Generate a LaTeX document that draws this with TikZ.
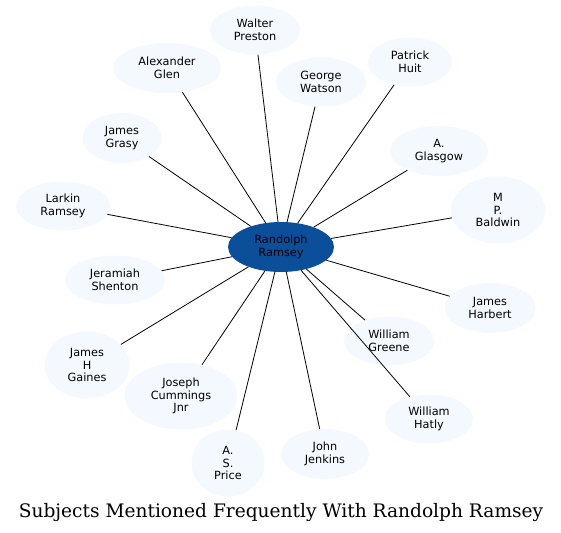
\documentclass[tikz,border=0pt]{standalone}
\usepackage{fontspec}
\setmainfont{DejaVu Sans}
\newfontfamily\titlefont{DejaVu Serif}
\usetikzlibrary{shapes.geometric}
\usepackage{xcolor}
\definecolor{hub}{RGB}{11,79,155}
\definecolor{leaf}{RGB}{244,248,255}

\begin{document}
\begin{tikzpicture}[x=1pt,y=-1pt,
  who/.style={ellipse,fill=leaf,inner sep=0pt,align=center,font=\fontsize{11.3}{12.6}\selectfont},
  link/.style={line width=.8pt}]
\useasboundingbox (0,0) rectangle (561,532);
\node[who,fill=hub,minimum width=106,minimum height=50] (rr) at (281,247){Randolph\\Ramsey};
\node[who,minimum width=90,minimum height=49] (wp) at (255,30){Walter\\Preston};
\node[who,minimum width=108,minimum height=50] (ag) at (167,68){Alexander\\Glen};
\node[who,minimum width=90,minimum height=49] (gw) at (321,82){George\\Watson};
\node[who,minimum width=84,minimum height=49] (ph) at (410,62){Patrick\\Huit};
\node[who,minimum width=79,minimum height=50] (jg) at (122,138){James\\Grasy};
\node[who,minimum width=98,minimum height=50] (agl) at (439,151){A.\\Glasgow};
\node[who,minimum width=94,minimum height=49] (lr) at (63,206){Larkin\\Ramsey};
\node[who,minimum width=94,minimum height=67] (mpb) at (498,210){M\\P.\\Baldwin};
\node[who,minimum width=100,minimum height=49] (js) at (115,280){Jeramiah\\Shenton};
\node[who,minimum width=91,minimum height=50] (jh) at (490,308){James\\Harbert};
\node[who,minimum width=90,minimum height=49] (wg) at (389,341){William\\Greene};
\node[who,minimum width=85,minimum height=67] (jhg) at (87,365){James\\H\\Gaines};
\node[who,minimum width=113,minimum height=67] (jcj) at (181,396){Joseph\\Cummings\\Jnr};
\node[who,minimum width=88,minimum height=49] (wh) at (429,419){William\\Hatly};
\node[who,minimum width=73,minimum height=67] (asp) at (228,463){A.\\S.\\Price};
\node[who,minimum width=88,minimum height=50] (jj) at (325,454){John\\Jenkins};
\foreach \n in {wp,ag,gw,ph,jg,agl,lr,mpb,js,jh,wg,jhg,jcj,wh,asp,jj}{\draw[link] (rr) -- (\n);}
\node[font=\titlefont\fontsize{18.6}{22}\selectfont,anchor=base,inner sep=0pt] (ttl) at (281,517){Subjects Mentioned Frequently With Randolph Ramsey};
\end{tikzpicture}
\end{document}
